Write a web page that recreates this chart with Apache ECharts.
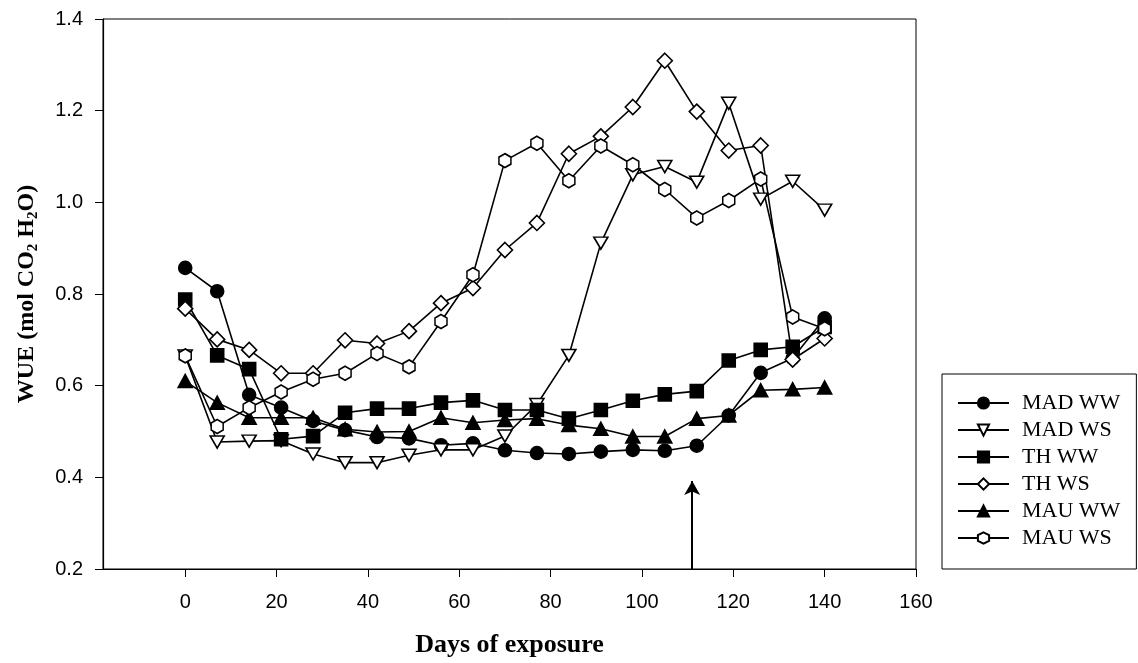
<!DOCTYPE html>
<html>
<head>
<meta charset="utf-8">
<style>
  html, body { margin: 0; padding: 0; background: #fff; }
  #chart { width: 1138px; height: 663px; }
</style>
<script src="https://cdn.jsdelivr.net/npm/echarts@6/dist/echarts.min.js"></script>
</head>
<body>
<div id="chart"></div>
<script>
// sampling days
var days = [0, 7, 14, 21, 28, 35, 42, 49, 56, 63, 70, 77, 84, 91, 98, 105, 112, 119, 126, 133, 140];

// WUE per treatment
var madWW = [0.857, 0.806, 0.580, 0.552, 0.523, 0.503, 0.488, 0.485, 0.470, 0.474, 0.459, 0.453, 0.451, 0.456, 0.460, 0.458, 0.469, 0.535, 0.628, 0.660, 0.747];
var madWS = [0.665, 0.477, 0.479, 0.480, 0.451, 0.432, 0.432, 0.448, 0.460, 0.460, 0.490, 0.559, 0.666, 0.911, 1.060, 1.078, 1.044, 1.216, 1.007, 1.046, 0.983];
var thWW = [0.788, 0.666, 0.636, 0.483, 0.490, 0.541, 0.550, 0.550, 0.563, 0.568, 0.547, 0.547, 0.528, 0.547, 0.567, 0.581, 0.588, 0.655, 0.678, 0.685, 0.728];
var thWS = [0.768, 0.701, 0.678, 0.627, 0.627, 0.699, 0.692, 0.719, 0.780, 0.813, 0.896, 0.955, 1.106, 1.144, 1.208, 1.309, 1.198, 1.113, 1.124, 0.657, 0.703];
var mauWW = [0.610, 0.563, 0.530, 0.530, 0.530, 0.505, 0.499, 0.500, 0.530, 0.519, 0.525, 0.528, 0.514, 0.506, 0.489, 0.489, 0.528, 0.535, 0.590, 0.592, 0.596];
var mauWS = [0.665, 0.511, 0.552, 0.586, 0.614, 0.627, 0.670, 0.641, 0.740, 0.842, 1.091, 1.129, 1.047, 1.123, 1.082, 1.028, 0.966, 1.004, 1.051, 0.750, 0.724];

var names = ["MAD WW", "MAD WS", "TH WW", "TH WS", "MAU WW", "MAU WS"];
var xTicks = [0, 20, 40, 60, 80, 100, 120, 140, 160];

// arrow marking day of stress release
var arrowDay = 111;
var arrowFrom = 0.2;
var arrowTo = 0.392;

var triDown = "path://M-1,-0.85 L1,-0.85 L0,0.85 Z";
var hexagon = "path://M0,-1 L0.866,-0.5 L0.866,0.5 L0,1 L-0.866,0.5 L-0.866,-0.5 Z";

function pair(vals) {
  return days.map(function (d, i) { return [d, vals[i]]; });
}

function makeSeries(name, vals, symbol, size, filled) {
  return {
    name: name,
    type: "line",
    data: pair(vals),
    symbol: symbol,
    symbolSize: size,
    showAllSymbol: true,
    animation: false,
    lineStyle: { color: "#000", width: 1.6 },
    itemStyle: { color: filled ? "#000" : "#fff", borderColor: "#000", borderWidth: 1.6 }
  };
}

var series = [
  makeSeries(names[0], madWW, "circle", 13, true),
  makeSeries(names[1], madWS, triDown, [14, 12], false),
  makeSeries(names[2], thWW, "rect", 13, true),
  makeSeries(names[3], thWS, "diamond", 15, false),
  makeSeries(names[4], mauWW, "triangle", [14, 13], true),
  makeSeries(names[5], mauWS, hexagon, [12, 14], false)
];

series[5].markLine = {
  silent: true,
  animation: false,
  symbol: ["none", "arrow"],
  symbolSize: [12, 14],
  label: { show: false },
  lineStyle: { color: "#000", width: 2, type: "solid" },
  data: [[{ coord: [arrowDay, arrowFrom] }, { coord: [arrowDay, arrowTo] }]]
};

var myChart = echarts.init(document.getElementById("chart"));
var option = {
  backgroundColor: "#fff",
  animation: false,
  grid: {
    left: 103, right: 222, top: 19, bottom: 93,
    show: true, borderColor: "#000", borderWidth: 1
  },
  legend: {
    data: names,
    orient: "vertical",
    left: 942,
    top: 374,
    padding: [18, 16, 20, 15],
    borderColor: "#000",
    borderWidth: 1,
    itemWidth: 51,
    itemHeight: 14,
    itemGap: 5,
    textStyle: {
      fontFamily: "Liberation Serif",
      fontSize: 22,
      color: "#000",
      lineHeight: 20,
      padding: [0, 0, 0, 8]
    }
  },
  xAxis: {
    type: "value",
    min: -18,
    max: 160,
    name: "Days of exposure",
    nameLocation: "middle",
    nameGap: 63,
    nameTextStyle: { fontFamily: "Liberation Serif", fontWeight: "bold", fontSize: 26, color: "#000" },
    axisLine: { onZero: false, lineStyle: { color: "#000", width: 1.2 } },
    axisTick: { length: 8, lineStyle: { color: "#000" }, customValues: xTicks },
    axisLabel: { customValues: xTicks, margin: 23, fontFamily: "Liberation Sans", fontSize: 20, color: "#000" },
    splitLine: { show: false }
  },
  yAxis: {
    type: "value",
    min: 0.2,
    max: 1.4,
    interval: 0.2,
    name: "{b|WUE (mol CO}{s|2}{b| H}{s|2}{b|O)}",
    nameLocation: "middle",
    nameRotate: 90,
    nameGap: 62,
    nameTextStyle: {
      rich: {
        b: { fontFamily: "Liberation Serif", fontWeight: "bold", fontSize: 24, color: "#000", lineHeight: 28 },
        s: { fontFamily: "Liberation Serif", fontWeight: "bold", fontSize: 15, color: "#000", lineHeight: 10, verticalAlign: "bottom" }
      }
    },
    axisLine: { show: true, onZero: false, lineStyle: { color: "#000", width: 1.2 } },
    axisTick: { show: true, length: 8, lineStyle: { color: "#000" } },
    axisLabel: {
      margin: 20, fontFamily: "Liberation Sans", fontSize: 20, color: "#000",
      formatter: function (v) { return v.toFixed(1); }
    },
    splitLine: { show: false }
  },
  series: series
};
myChart.setOption(option);
</script>
</body>
</html>
